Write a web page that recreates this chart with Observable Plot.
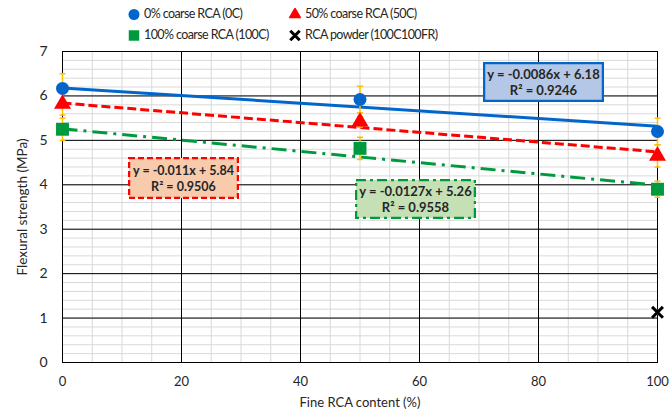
<!DOCTYPE html>
<html>
<head>
<meta charset="utf-8">
<script src="https://cdn.jsdelivr.net/npm/d3@7"></script>
<script src="https://cdn.jsdelivr.net/npm/@observablehq/plot@0.6"></script>
<style>
  html, body { margin: 0; padding: 0; background: #fff; }
  #wrap { position: relative; width: 670px; height: 416px; font-family: Lato, "Open Sans", sans-serif; color: #262626; }
  #legend { position: relative; height: 46px; font-size: 12.5px; letter-spacing: -0.6px; }
  .item { position: absolute; display: flex; align-items: center; white-space: nowrap; }
  .item svg { margin-right: 4px; }
  .box { position: absolute; }
</style>
</head>
<body>
<div id="wrap">
  <div id="legend"></div>
  <div id="chart"></div>
</div>
<script>
// Fine RCA replacement levels (x) and mean flexural strength per coarse RCA level
const fineRCA = [0, 50, 100];
const coarse0 = [6.17, 5.92, 5.2];
const coarse50 = [5.82, 5.42, 4.65];
const coarse100 = [5.25, 4.82, 3.9];
// standard deviations shown as error bars
const err0 = [0.33, 0.3, 0.3];
const err50 = [0.25, 0.12, 0.25];
const err100 = [0.25, 0.25, 0.18];
// RCA powder mix
const powderX = [100];
const powderY = [1.13];
const powderErr = [0.04];

// linear trendlines: y = slope * x + intercept
const seriesNames = ["0% coarse RCA (0C)", "50% coarse RCA (50C)", "100% coarse RCA (100C)", "RCA powder (100C100FR)"];
const trendSlopes = [-0.0086, -0.011, -0.0127];
const trendIntercepts = [6.18, 5.84, 5.26];
const trendR2 = [0.9246, 0.9506, 0.9558];

const xTicks = [0, 20, 40, 60, 80, 100];
const yTicks = [0, 1, 2, 3, 4, 5, 6, 7];

const colors = ["#0066CC", "#FF0000", "#009A3E", "#000000"];

const values = [coarse0, coarse50, coarse100];
const errs = [err0, err50, err100];

const points = values.flatMap((vals, s) =>
  fineRCA.map((x, i) => ({series: seriesNames[s], s, x, y: vals[i], e: errs[s][i]}))
).concat(powderX.map((x, i) => ({series: seriesNames[3], s: 3, x, y: powderY[i], e: powderErr[i]})));

const trendRows = trendSlopes.flatMap((m, s) =>
  [fineRCA[0], fineRCA[fineRCA.length - 1]].map(x => ({s, x, y: trendIntercepts[s] + m * x}))
);

const xMinor = d3.range(0, 101, 5);
const yMinor = d3.range(0, 7.001, 0.2).map(v => +v.toFixed(1));

// horizontal cap for error bars
const capSymbol = {draw(ctx) { ctx.moveTo(-3, 0); ctx.lineTo(3, 0); }};

const dashes = [null, "9,4", "15,6,3,6"];

const chart = Plot.plot({
  width: 670,
  height: 370,
  marginLeft: 62,
  marginRight: 13,
  marginTop: 5,
  marginBottom: 54,
  x: {domain: [0, 100]},
  y: {domain: [0, 7]},
  style: {fontFamily: "Lato, 'Open Sans', sans-serif", fontSize: "13px", color: "#262626", background: "white", overflow: "visible"},
  marks: [
    Plot.ruleX(xMinor, {stroke: "#d9d9d9", strokeWidth: 1}),
    Plot.ruleY(yMinor, {stroke: "#d9d9d9", strokeWidth: 1}),
    Plot.ruleX(xTicks, {stroke: "#000", strokeWidth: 1}),
    Plot.ruleY(yTicks, {stroke: "#000", strokeWidth: 1}),
    Plot.frame({stroke: "#000", strokeWidth: 1}),
    Plot.axisX({ticks: xTicks, tickSize: 0, tickPadding: 14, tickFormat: d3.format("d"), label: "Fine RCA content (%)", labelAnchor: "center", labelOffset: 44, labelArrow: "none"}),
    Plot.axisY({ticks: yTicks, tickSize: 0, tickPadding: 15, tickFormat: d3.format("d"), fontSize: 14, label: null}),
    Plot.axisY({ticks: [], tickSize: 0, label: "Flexural strength (MPa)", labelAnchor: "center", labelOffset: 45, labelArrow: "none", fontSize: 13.5}),
    ...trendSlopes.map((m, s) => Plot.line(trendRows.filter(d => d.s === s), {
      x: "x", y: "y", stroke: colors[s], strokeWidth: 3, strokeDasharray: dashes[s], strokeLinecap: "butt"
    })),
    Plot.ruleX(points, {x: "x", y1: d => d.y - d.e, y2: d => d.y + d.e, stroke: "#FFC000", strokeWidth: 1.5}),
    Plot.dot(points, {x: "x", y: d => d.y - d.e, symbol: capSymbol, fill: "none", stroke: "#FFC000", strokeWidth: 1.5}),
    Plot.dot(points, {x: "x", y: d => d.y + d.e, symbol: capSymbol, fill: "none", stroke: "#FFC000", strokeWidth: 1.5}),
    Plot.dot(points.filter(d => d.s === 0), {x: "x", y: "y", symbol: "circle", r: 6.5, fill: colors[0]}),
    Plot.dot(points.filter(d => d.s === 1), {x: "x", y: "y", symbol: "triangle", r: 6.3, fill: colors[1]}),
    Plot.dot(points.filter(d => d.s === 2), {x: "x", y: "y", symbol: "square", r: 7.3, fill: colors[2]}),
    Plot.dot(points.filter(d => d.s === 3), {x: "x", y: "y", symbol: "times", r: 5, fill: "none", stroke: colors[3], strokeWidth: 3})
  ]
});
document.getElementById("chart").appendChild(chart);

// legend above the plot
const legend = document.getElementById("legend");
const legendPos = [[128, 6], [289, 6], [128, 27], [289, 27]];
const legendSymbols = [d3.symbolCircle, d3.symbolTriangle, d3.symbolSquare, d3.symbolTimes];
const legendSizes = [95, 75, 110, 60];
seriesNames.forEach((name, s) => {
  const item = document.createElement("div");
  item.className = "item";
  item.style.left = legendPos[s][0] + "px";
  item.style.top = legendPos[s][1] + "px";
  const sym = d3.create("svg").attr("width", 12).attr("height", 12);
  const g = sym.append("path").attr("d", d3.symbol(legendSymbols[s], legendSizes[s])()).attr("transform", "translate(6,6.5)");
  if (s === 3) g.attr("fill", "none").attr("stroke", "#000").attr("stroke-width", 3);
  else g.attr("fill", colors[s]);
  item.appendChild(sym.node());
  const t = document.createElement("span");
  t.textContent = name;
  item.appendChild(t);
  legend.appendChild(item);
});

// trendline equation boxes
const boxFills = ["#B4C7E7", "#F8CBAD", "#C5E0B4"];
const boxStrokes = ["#0066CC", "#FF0000", "#009A3E"];
const boxDash = [null, "6,3", "10,4,3,4"];
const boxLayout = [[483, 62, 121, 40], [128, 157, 111, 42], [355, 179, 121, 40]];
const boxFont = [13, 12.5, 13];
const wrap = document.getElementById("wrap");
trendSlopes.forEach((m, s) => {
  const [left, top, w, h] = boxLayout[s];
  const svg = d3.create("svg").attr("class", "box").attr("width", w).attr("height", h)
    .style("left", left + "px").style("top", top + "px");
  svg.append("rect").attr("x", 1).attr("y", 1).attr("width", w - 2).attr("height", h - 2)
    .attr("fill", boxFills[s]).attr("stroke", boxStrokes[s]).attr("stroke-width", 2.5)
    .attr("stroke-dasharray", boxDash[s]);
  const txt = svg.append("g").attr("font-family", "Lato, 'Open Sans', sans-serif").attr("font-weight", "bold")
    .attr("font-size", boxFont[s]).attr("fill", "#262626").attr("text-anchor", "middle");
  txt.append("text").attr("x", w / 2).attr("y", h / 2 - 3).text(`y = ${m}x + ${trendIntercepts[s]}`);
  txt.append("text").attr("x", w / 2).attr("y", h / 2 + 13).text(`R² = ${trendR2[s]}`);
  wrap.appendChild(svg.node());
});
</script>
</body>
</html>
